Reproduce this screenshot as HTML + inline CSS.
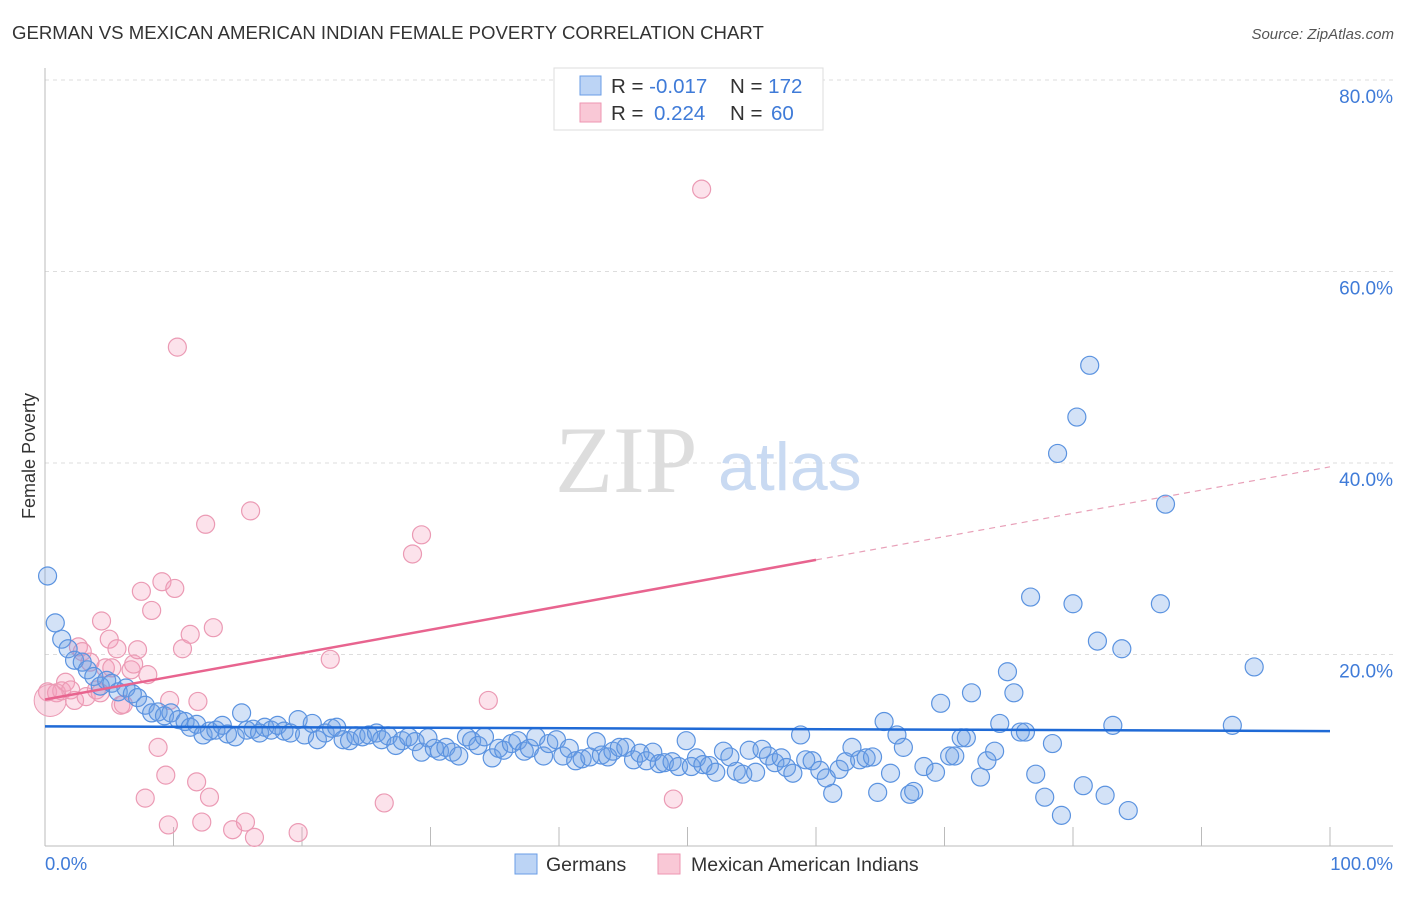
<!DOCTYPE html>
<html><head><meta charset="utf-8"><style>
body{margin:0;background:#fff;font-family:"Liberation Sans",sans-serif;}
svg text{font-family:"Liberation Sans",sans-serif;}
</style></head><body>
<svg id="chart" width="1406" height="892" xmlns="http://www.w3.org/2000/svg">
<text x="12" y="39" font-size="18.6" fill="#333">GERMAN VS MEXICAN AMERICAN INDIAN FEMALE POVERTY CORRELATION CHART</text>
<text x="1394" y="39" font-size="15" fill="#555" font-style="italic" text-anchor="end">Source: ZipAtlas.com</text>
<g id="grid"></g>
<line x1="45" y1="68" x2="45" y2="846" stroke="#bbb"/>
<line x1="45" y1="846" x2="1393" y2="846" stroke="#bbb"/>
<text x="555" y="492" font-size="95" fill="#ddd" style="font-family:'Liberation Serif',serif">ZIP</text>
<text x="718" y="490" font-size="68" fill="#c9daf2">atlas</text>
<g id="marks"></g>
<text x="28" y="463" font-size="18" fill="#333" transform="rotate(-90 28 456)" text-anchor="middle">Female Poverty</text>
<text x="45" y="870" font-size="18.5" fill="#3f7bd8">0.0%</text>
<text x="1393" y="870" font-size="18.5" fill="#3f7bd8" text-anchor="end">100.0%</text>
<g>
<rect x="554" y="68" width="269" height="62" fill="#fff" stroke="#ddd"/>
<rect x="580" y="76" width="21" height="19" fill="#bcd4f5" stroke="#6a9de6"/>
<rect x="580" y="103" width="21" height="19" fill="#f9c8d6" stroke="#ee96b2"/>
<text x="611" y="93" font-size="20.5" fill="#333">R = <tspan fill="#3f7bd8">-0.017</tspan></text>
<text x="730" y="93" font-size="20.5" fill="#333">N = <tspan fill="#3f7bd8">172</tspan></text>
<text x="611" y="120" font-size="20.5" fill="#333">R = <tspan fill="#3f7bd8" x="654">0.224</tspan></text>
<text x="730" y="120" font-size="20.5" fill="#333">N = <tspan fill="#3f7bd8" x="771">60</tspan></text>
</g>
<g>
<rect x="515" y="854" width="22" height="20" fill="#bcd4f5" stroke="#6a9de6"/>
<text x="546" y="871" font-size="19.5" fill="#333">Germans</text>
<rect x="658" y="854" width="22" height="20" fill="#f9c8d6" stroke="#ee96b2"/>
<text x="691" y="871" font-size="19.5" fill="#333">Mexican American Indians</text>
</g>
</svg>
<script>
const yTicks=[20,40,60,80];
const yTickLabels=["20.0%","40.0%","60.0%","80.0%"];
const xTicks=[10,20,30,40,50,60,70,80,90,100];
const germanX=[0.2,0.8,1.3,1.8,2.3,2.9,3.3,3.8,4.3,4.8,5.2,5.7,6.3,6.8,7.2,7.8,8.3,8.8,9.3,9.8,10.4,10.9,11.3,11.8,12.3,12.8,13.3,13.8,14.2,14.8,15.3,15.7,16.2,16.7,17.1,17.6,18.1,18.6,19.1,19.7,20.2,20.8,21.2,21.8,22.3,22.7,23.2,23.7,24.2,24.7,25.2,25.8,26.2,26.7,27.3,27.8,28.3,28.8,29.3,29.8,30.3,30.7,31.2,31.7,32.2,32.8,33.2,33.7,34.2,34.8,35.3,35.7,36.3,36.8,37.3,37.7,38.2,38.8,39.2,39.8,40.3,40.8,41.3,41.8,42.4,42.9,43.3,43.8,44.2,44.7,45.2,45.8,46.3,46.8,47.3,47.8,48.2,48.8,49.3,49.9,50.3,50.7,51.2,51.7,52.2,52.8,53.3,53.8,54.3,54.8,55.3,55.8,56.3,56.8,57.3,57.7,58.2,58.8,59.2,59.7,60.3,60.8,61.3,61.8,62.3,62.8,63.4,63.9,64.4,64.8,65.3,65.8,66.3,66.8,67.3,67.6,68.4,69.3,69.7,70.4,70.8,71.3,71.7,72.1,72.8,73.3,73.9,74.3,74.9,75.4,75.9,76.3,77.1,76.7,77.8,78.4,78.8,79.1,80.0,80.3,80.8,81.3,81.9,82.5,83.1,83.8,84.3,86.8,87.2,92.4,94.1];
const germanY=[28.2,23.3,21.6,20.6,19.4,19.2,18.4,17.7,16.7,17.3,17.0,16.1,16.5,15.9,15.5,14.7,13.9,14.0,13.6,13.9,13.2,13.0,12.4,12.7,11.6,12.0,12.1,12.6,11.7,11.4,13.9,12.1,12.2,11.8,12.4,12.1,12.6,12.0,11.8,13.2,11.6,12.8,11.1,11.8,12.3,12.4,11.1,11.0,11.5,11.4,11.6,11.8,11.1,11.5,10.5,11.0,11.4,10.9,9.8,11.3,10.2,9.9,10.3,9.8,9.4,11.4,11.0,10.5,11.4,9.2,10.2,10.0,10.7,11.0,9.9,10.2,11.4,9.4,10.7,11.1,9.4,10.2,8.9,9.1,9.3,10.9,9.5,9.3,9.9,10.3,10.3,9.0,9.7,8.9,9.8,8.6,8.7,8.8,8.3,11.0,8.3,9.2,8.5,8.4,7.7,9.9,9.3,7.8,7.5,10.0,7.7,10.1,9.4,8.7,9.2,8.2,7.6,11.6,9.0,8.9,7.9,7.1,5.5,8.0,8.8,10.3,9.0,9.2,9.3,5.6,13.0,7.6,11.6,10.3,5.4,5.7,8.3,7.7,14.9,9.4,9.4,11.3,11.3,16.0,7.2,8.9,9.9,12.8,18.2,16.0,11.9,11.9,7.5,26.0,5.1,10.7,41.0,3.2,25.3,44.8,6.3,50.2,21.4,5.3,12.6,20.6,3.7,25.3,35.7,12.6,18.7];
const mexX=[0.2,0.9,1.3,1.6,2.0,2.3,2.6,2.9,3.2,3.5,4.0,4.3,4.4,4.7,5.0,5.2,5.6,5.9,6.1,6.7,6.9,7.2,7.5,7.8,8.0,8.3,8.8,9.1,9.4,9.6,9.7,10.1,10.3,10.7,11.3,11.8,11.9,12.2,12.5,12.8,13.1,14.6,15.6,16.0,16.3,19.7,22.2,26.4,28.6,29.3,34.5,48.9,51.1];
const mexY=[16.1,16.0,16.2,17.1,16.3,15.2,20.8,20.3,15.6,19.2,16.3,16.0,23.5,18.6,21.6,18.6,20.6,14.7,14.8,18.4,19.0,20.5,26.6,5.0,17.9,24.6,10.3,27.6,7.4,2.2,15.2,26.9,52.1,20.6,22.1,6.7,15.1,2.5,33.6,5.1,22.8,1.7,2.5,35.0,0.9,1.4,19.5,4.5,30.5,32.5,15.2,4.9,68.6];
const germanTrend=[12.5,12.0];
const mexTrend=[15.3,39.6];
const NS="http://www.w3.org/2000/svg";
const xs=v=>45+v*12.85;
const ys=v=>846-v*9.575;
function mk(tag,attrs,parent){const e=document.createElementNS(NS,tag);for(const k in attrs)e.setAttribute(k,attrs[k]);parent.appendChild(e);return e;}
const grid=document.getElementById('grid');
const marks=document.getElementById('marks');
yTicks.forEach((t,i)=>{
  const l=mk('line',{x1:45,x2:1393,y1:ys(t),y2:ys(t),stroke:'#ddd','stroke-dasharray':'4,4'},grid);
  
  
  const tx=mk('text',{x:1393,y:ys(t)+23,'font-size':19,fill:'#3f7bd8','text-anchor':'end'},grid);
  tx.textContent=yTickLabels[i];
  
  
});
xTicks.forEach(t=>{
  const l=mk('line',{x1:xs(t),x2:xs(t),y1:827,y2:846,stroke:'#bbb'},grid);
  
  
});
mexX.forEach((x,i)=>{
  const c=mk('circle',{cx:xs(x),cy:ys(mexY[i]),r:9,fill:'rgba(244,160,188,0.3)',stroke:'#eb9ab4','stroke-width':1.2},marks);
  
  
});
const big=mk('circle',{cx:xs(0.4),cy:ys(15.2),r:16,fill:'rgba(244,160,188,0.35)',stroke:'#eb9ab4'},marks);


germanX.forEach((x,i)=>{
  const c=mk('circle',{cx:xs(x),cy:ys(germanY[i]),r:9,fill:'rgba(110,160,230,0.3)',stroke:'#5b93e0','stroke-width':1.2},marks);
  
  
});
const gl=mk('line',{x1:xs(0),y1:ys(germanTrend[0]),x2:xs(100),y2:ys(germanTrend[1]),stroke:'#1f6ad6','stroke-width':2.5},marks);


const mAt=x=>mexTrend[0]+(mexTrend[1]-mexTrend[0])*x/100;
const ml=mk('line',{x1:xs(0),y1:ys(mAt(0)),x2:xs(60),y2:ys(mAt(60)),stroke:'#e8648f','stroke-width':2.5},marks);


const md=mk('line',{x1:xs(60),y1:ys(mAt(60)),x2:xs(100),y2:ys(mAt(100)),stroke:'#e8a0b8','stroke-width':1.2,'stroke-dasharray':'6,5'},marks);


</script>
</body></html>
